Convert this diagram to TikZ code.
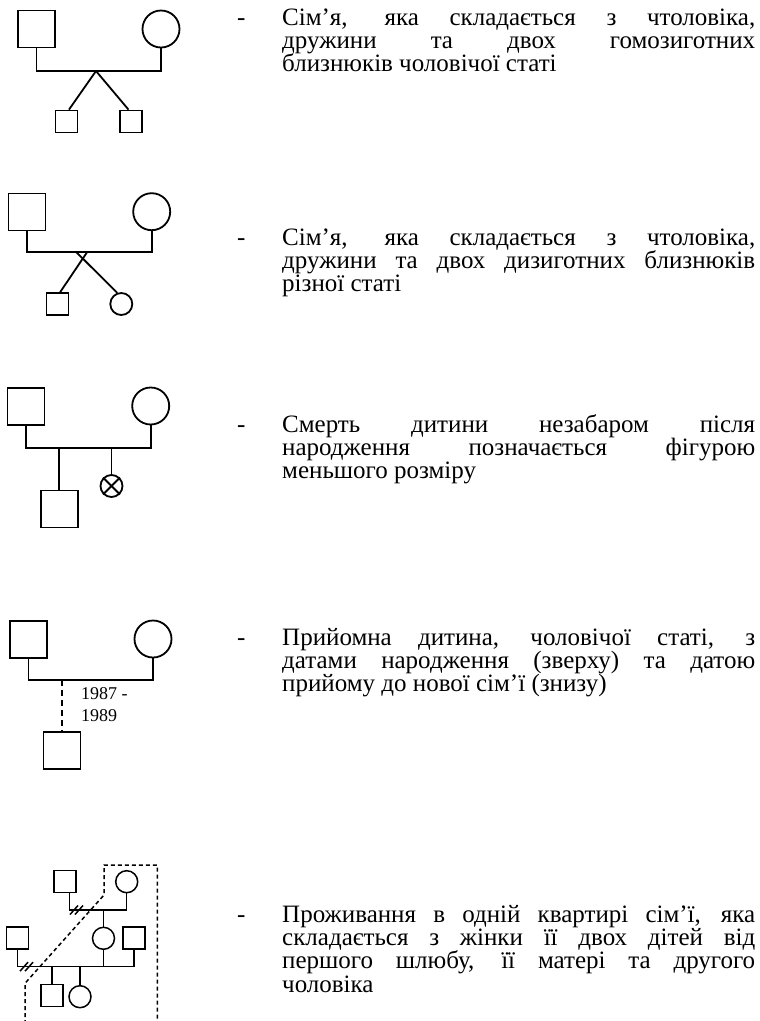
\documentclass[tikz,border=0pt]{standalone}
\usepackage{fontspec}
\setmainfont{Liberation Serif}
\newcommand{\jlin}[1]{\makebox[473pt][s]{#1}}
\begin{document}
\begin{tikzpicture}[x=1pt,y=-1pt,
  ln/.style={line width=1.8pt},
  lnt/.style={line width=1.5pt},
  male/.style={draw, rectangle, line width=1.8pt, minimum size=37pt, inner sep=0pt},
  female/.style={draw, circle, line width=1.8pt, minimum size=37pt, inner sep=0pt},
  smale/.style={male, minimum size=22pt},
  sfemale/.style={female, minimum size=22pt},
  tmale/.style={smale, line width=1.5pt},
  tfemale/.style={sfemale, line width=1.5pt},
  adopt/.style={line width=1.8pt, dash pattern=on 6pt off 4pt},
  home/.style={line width=1.5pt, dash pattern=on 4pt off 3pt},
  txt/.style={anchor=base west, inner sep=0pt, font=\fontsize{25pt}{23.4pt}\selectfont},
  date/.style={anchor=base west, inner sep=0pt, font=\fontsize{18pt}{21pt}\selectfont}
]
\useasboundingbox (0,0) rectangle (760,1021);

% ---------- Diagram 1 ----------
\node[male] (a1) at (36.5,29) {};
\node[female] (b1) at (161,29) {};
\coordinate (j1) at (96,71);
\node[smale] (c1) at (66.5,121.5) {};
\node[smale] (d1) at (131,121.5) {};
\draw[ln] (a1.south) |- (j1) -| (b1.south);
\draw[ln] (j1) -- ([xshift=2.5pt]c1.north);
\draw[ln] (j1) -- ([xshift=-2.5pt]d1.north);

% ---------- Diagram 2 ----------
\node[male] (a2) at (27,212) {};
\node[female] (b2) at (151.7,211.7) {};
\coordinate (j2) at (76.5,252.3);
\coordinate (j2b) at (87,252.3);
\node[smale] (c2) at (57.5,304.3) {};
\node[sfemale] (d2) at (121.3,304) {};
\draw[ln] (a2.south) |- (j2) -| (b2.south);
\draw[ln] (j2) -- (d2.110);
\draw[ln] (j2b) -- ([xshift=2.5pt]c2.north);

% ---------- Diagram 3 ----------
\node[male] (a3) at (26,406.7) {};
\node[female] (b3) at (150.7,406) {};
\coordinate (j3) at (59.3,447.7);
\coordinate (j3b) at (111.5,447.7);
\node[male] (c3) at (59.3,509) {};
\node[sfemale] (d3) at (111.5,486) {};
\draw[ln] (a3.south) |- (j3) -| (b3.south);
\draw[ln] (j3) -- (c3.north);
\draw[ln] (j3b) -- (d3.north);
\draw[ln] (d3.45) -- (d3.225);
\draw[ln] (d3.135) -- (d3.315);

% ---------- Diagram 4 ----------
\node[male] (a4) at (28.5,639.3) {};
\node[female] (b4) at (153,639) {};
\coordinate (j4) at (62,680);
\node[male] (c4) at (62,750.7) {};
\draw[ln] (a4.south) |- (j4) -| (b4.south);
\draw[adopt] (j4) -- (c4.north);
\node[date] (d4a) at (81,699.3) {1987 -};
\node[date] (d4b) at (81,721) {1989};

% ---------- Diagram 5 ----------
\node[tmale] (ts) at (64.8,881.3) {};
\node[tfemale] (tc) at (126.7,881.7) {};
\coordinate (j5a) at (103.5,910);
\node[tfemale] (mc) at (103.5,938.3) {};
\node[tmale] (ls) at (17.7,938) {};
\node[tmale] (rs) at (134.2,938) {};
\coordinate (j5b) at (52,966.7);
\coordinate (j5c) at (80,966.7);
\node[tmale] (ks) at (52,995.3) {};
\node[tfemale] (kc) at (80,996.7) {};
\draw[lnt] ([xshift=4.5pt]ts.south) |- (j5a) -| (tc.south);
\draw[lnt] (j5a) -- (mc.north);
\draw[lnt] (ls.south) |- (j5b) -| (rs.south);
\draw[lnt] (mc.south) -- (mc.south |- j5b);
\draw[lnt] (j5b) -- (ks.north);
\draw[lnt] (j5c) -- (kc.north);
% divorce marks
\draw[lnt] (70,914.5) -- (78,905.5);
\draw[lnt] (75,914.5) -- (83,905.5);
\draw[lnt] (20,971.2) -- (28,962.2);
\draw[lnt] (25,971.2) -- (33,962.2);
% household boundary
\coordinate (h1) at (25,1024);
\coordinate (h2) at (25,983.3);
\coordinate (h3) at (104,895);
\coordinate (h4) at (104,865);
\coordinate (h5) at (157.3,865);
\coordinate (h6) at (157.3,1024);
\draw[home] (h1) -- (h2) -- (h3) -- (h4) -- (h5) -- (h6);

% ---------- Texts ----------
\node[txt] (s1) at (237,25) {-};
\node[txt] (t1a) at (282,25) {\jlin{Сім’я, яка складається з чтоловіка,}};
\node[txt] (t1b) at (282,48.3) {\jlin{дружини та двох гомозиготних}};
\node[txt] (t1c) at (282,71.6) {близнюків чоловічої статі};

\node[txt] (s2) at (237,245) {-};
\node[txt] (t2a) at (282,245) {\jlin{Сім’я, яка складається з чтоловіка,}};
\node[txt] (t2b) at (282,268.3) {\jlin{дружини та двох дизиготних близнюків}};
\node[txt] (t2c) at (282,291.6) {різної статі};

\node[txt] (s3) at (237,432) {-};
\node[txt] (t3a) at (282,432) {\jlin{Смерть дитини незабаром після}};
\node[txt] (t3b) at (282,455.3) {\jlin{народження позначається фігурою}};
\node[txt] (t3c) at (282,478.6) {меньшого розміру};

\node[txt] (s4) at (237,645) {-};
\node[txt] (t4a) at (282,645) {\jlin{Прийомна дитина, чоловічої статі, з}};
\node[txt] (t4b) at (282,668.3) {\jlin{датами народження (зверху) та датою}};
\node[txt] (t4c) at (282,691.6) {прийому до нової сім’ї (знизу)};

\node[txt] (s5) at (237,922) {-};
\node[txt] (t5a) at (282,922) {\jlin{Проживання в одній квартирі сім’ї, яка}};
\node[txt] (t5b) at (282,945.3) {\jlin{складається з жінки її двох дітей від}};
\node[txt] (t5c) at (282,968.6) {\jlin{першого шлюбу, її матері та другого}};
\node[txt] (t5d) at (282,992) {чоловіка};
\end{tikzpicture}
\end{document}
